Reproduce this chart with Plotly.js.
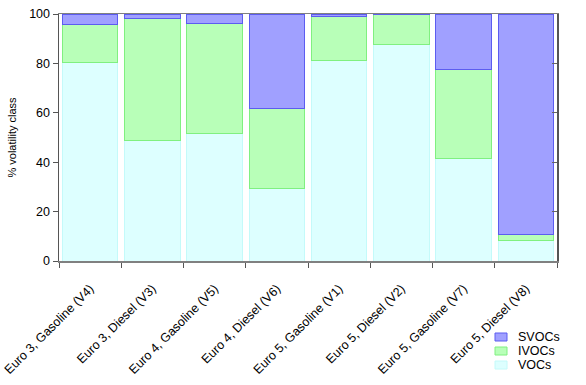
<!DOCTYPE html>
<html><head><meta charset="utf-8">
<script src="https://cdn.plot.ly/plotly-3.0.1.min.js"></script>
<style>body{margin:0;background:#fff}#c{width:586px;height:385px}</style>
</head><body><div id="c"></div>
<script>
const categories = ["Euro 3, Gasoline (V4)","Euro 3, Diesel (V3)","Euro 4, Gasoline (V5)","Euro 4, Diesel (V6)","Euro 5, Gasoline (V1)","Euro 5, Diesel (V2)","Euro 5, Gasoline (V7)","Euro 5, Diesel (V8)"];
const vocs  = [80.4, 48.9, 51.6, 29.4, 81.1, 87.6, 41.4, 8.4];
const ivocs = [15.3, 49.3, 44.5, 32.4, 18.0, 12.0, 36.2, 2.4];
const svocs = [4.3, 1.8, 3.9, 38.2, 0.9, 0.4, 22.4, 89.2];
const yTicks = [0, 20, 40, 60, 80, 100];
const seriesNames = ["SVOCs", "IVOCs", "VOCs"];
const seriesFill = ["#a0a0ff", "#b8ffb8", "#ddffff"];
const seriesLine = ["#5c5cf0", "#80f080", "#c4fafa"];

const font = {family: "Arial, Liberation Sans, sans-serif", color: "#000"};
function tr(i, y) {
  return {type: "bar", name: seriesNames[i], x: categories, y: y, showlegend: false,
    marker: {color: seriesFill[i], line: {color: seriesLine[i], width: 1}}, hoverinfo: "skip"};
}
const data = [
  tr(2, vocs),
  tr(1, ivocs),
  tr(0, svocs),
  {type: "scatter", x: [categories[0]], y: [0], yaxis: "y2", mode: "markers",
   marker: {opacity: 0}, showlegend: false, hoverinfo: "skip"}
];

// manual legend (paper coordinates), plot area: x 59..557, y 14..261
const L = 59, W = 498, B = 261, H = 247;
const px = v => (v - L) / W, py = v => (B - v) / H;
const shapes = [], annotations = [];
seriesNames.forEach((n, i) => {
  const cy = 337 + i * 14;
  shapes.push({type: "rect", xref: "paper", yref: "paper",
    x0: px(495), x1: px(507), y0: py(cy - 4), y1: py(cy + 4),
    fillcolor: seriesFill[i], line: {color: seriesLine[i], width: 1}});
  annotations.push({xref: "paper", yref: "paper", x: px(516), y: py(cy),
    xanchor: "left", yanchor: "middle", showarrow: false, text: n,
    font: Object.assign({size: 12.5}, font)});
});

const layout = {
  width: 586, height: 385,
  margin: {l: 59, r: 29, t: 14, b: 124, autoexpand: false},
  barmode: "stack", bargap: 0.11,
  paper_bgcolor: "#fff", plot_bgcolor: "#fff",
  font: Object.assign({size: 12}, font),
  showlegend: false,
  shapes: shapes, annotations: annotations,
  xaxis: {type: "category", tickangle: -45, ticks: "outside", tickson: "boundaries",
    automargin: false, ticklabelstandoff: 14,
    ticklen: 5, tickcolor: "#555", showline: true, linecolor: "#808080", linewidth: 1.5,
    mirror: true, showgrid: false, zeroline: false, tickfont: Object.assign({size: 12.5}, font)},
  yaxis: {range: [0, 100], tickvals: yTicks, ticktext: yTicks.map(String), ticks: "outside",
    automargin: false,
    ticklen: 5, tickcolor: "#555", showline: true, linecolor: "#555", linewidth: 1.5,
    mirror: true, showgrid: false, zeroline: false,
    tickfont: Object.assign({size: 12.5}, font),
    title: {text: "% volatility class", font: Object.assign({size: 11}, font), standoff: 10}},
  yaxis2: {range: [0, 100], overlaying: "y", side: "right", tickvals: yTicks,
    ticks: "inside", ticklen: 5, tickcolor: "#666", showticklabels: false,
    showline: false, showgrid: false, zeroline: false}
};
Plotly.newPlot("c", data, layout, {displayModeBar: false, staticPlot: true});
</script></body></html>
